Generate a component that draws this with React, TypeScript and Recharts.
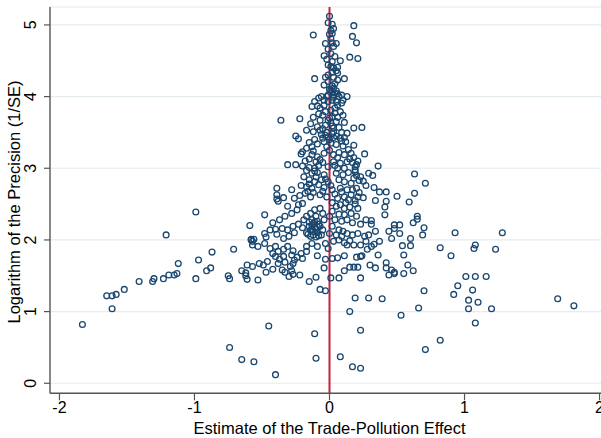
import React from 'react';
import { ScatterChart, Scatter, XAxis, YAxis, CartesianGrid, ReferenceLine } from 'recharts';

type Pt = [number, number];

const xTicks = [-2, -1, 0, 1, 2];
const yTicks = [0, 1, 2, 3, 4, 5];
const xTitle = 'Estimate of the Trade-Pollution Effect';
const yTitle = 'Logarithm of the Precision (1/SE)';

const bandBelow1: Pt[] = [
  [-1.83, 0.82], [-0.74, 0.5], [-0.65, 0.33], [-0.56, 0.3], [-0.4, 0.12], [-0.45, 0.8], [-0.11, 0.69],
  [-0.1, 0.35], [0.08, 0.37], [0.17, 0.23], [0.23, 0.21], [0.23, 0.74], [0.15, 1.0], [0.53, 0.95],
  [0.71, 0.47], [0.82, 0.6], [1.08, 0.84],
];

const band1to15: Pt[] = [
  [-1.65, 1.22], [-1.61, 1.22], [-1.58, 1.24], [-1.61, 1.04], [-1.52, 1.31], [-1.41, 1.42], [-1.31, 1.42],
  [-1.3, 1.46], [-1.23, 1.46], [-1.19, 1.51], [-1.15, 1.51], [-1.13, 1.53], [-0.99, 1.46], [-0.74, 1.46],
  [-0.75, 1.5], [-0.53, 1.44], [-0.61, 1.45], [-0.3, 1.49], [-0.15, 1.42], [-0.1, 1.48], [-0.07, 1.31],
  [-0.03, 1.29], [0.01, 1.47], [0.07, 1.47], [0.19, 1.19], [0.29, 1.19], [0.39, 1.18], [0.66, 1.05],
  [0.7, 1.29], [0.92, 1.24], [0.95, 1.36], [1.01, 1.49], [1.03, 1.16], [1.03, 1.04], [1.06, 1.3],
  [1.08, 1.49], [1.1, 1.13], [1.16, 1.49], [1.2, 1.04], [1.69, 1.18], [1.81, 1.08], [0.23, 1.47], [-0.62, 1.5],
];

const band15to2: Pt[] = [
  [-1.12, 1.67], [-0.97, 1.72], [-0.91, 1.57], [-0.88, 1.61], [-0.87, 1.83], [-0.71, 1.87], [-0.65, 1.57],
  [-0.62, 1.54], [-0.57, 1.63], [-0.61, 1.65], [-0.57, 1.93], [-0.53, 1.91], [-0.52, 1.67], [-0.49, 1.65],
  [-0.48, 1.95], [-0.47, 1.55], [-0.46, 1.7], [-0.44, 1.88], [-0.42, 1.81], [-0.42, 1.59], [-0.4, 1.91],
  [-0.4, 1.77], [-0.38, 1.84], [-0.38, 1.67], [-0.37, 1.73], [-0.35, 1.58], [-0.34, 1.87], [-0.34, 1.77],
  [-0.33, 1.69], [-0.33, 1.55], [-0.31, 1.91], [-0.29, 1.63], [-0.28, 1.79], [-0.28, 1.57], [-0.27, 1.85],
  [-0.27, 1.67], [-0.27, 1.52], [-0.26, 1.72], [-0.24, 1.76], [-0.22, 1.51], [-0.21, 1.81], [-0.2, 1.74],
  [-0.17, 1.84], [-0.17, 1.91], [-0.13, 1.95], [-0.09, 1.91], [-0.09, 1.78], [-0.03, 1.73], [-0.04, 1.61],
  [-0.03, 1.95], [-0.01, 1.88], [0.02, 1.74], [0.06, 1.75], [0.11, 1.78], [0.11, 1.57], [0.13, 1.93],
  [0.15, 1.62], [0.18, 1.62], [0.21, 1.62], [0.18, 1.93], [0.2, 1.76], [0.23, 1.77], [0.24, 1.78],
  [0.03, 1.98], [0.07, 2.0], [0.11, 1.96], [0.15, 1.99], [0.23, 1.93], [0.27, 1.98], [0.28, 1.87],
  [0.3, 1.65], [0.31, 1.91], [0.33, 1.94], [0.34, 1.61], [0.36, 1.79], [0.37, 1.98], [0.42, 1.68],
  [0.42, 1.61], [0.44, 1.51], [0.46, 1.58], [0.48, 1.53], [0.48, 1.55], [0.54, 1.92], [0.55, 1.79],
  [0.55, 1.53], [0.58, 1.65], [0.6, 1.92], [0.62, 1.57], [0.82, 1.89], [0.9, 1.78], [1.07, 1.88],
  [1.08, 1.93], [1.23, 1.87],
];

const band2to25: Pt[] = [
  [-1.21, 2.07], [-0.99, 2.39], [-0.59, 2.2], [-0.58, 2.0], [-0.57, 1.98], [-0.58, 2.01], [-0.56, 2.01],
  [-0.48, 2.35], [-0.48, 2.09], [-0.47, 2.04], [-0.44, 2.14], [-0.42, 2.24], [-0.4, 2.15], [-0.39, 2.08],
  [-0.37, 2.28], [-0.35, 2.16], [-0.34, 2.02], [-0.33, 2.33], [-0.31, 2.14], [-0.31, 2.47], [-0.3, 2.05],
  [-0.28, 2.37], [-0.27, 2.19], [-0.26, 2.1], [-0.24, 2.42], [-0.23, 2.49], [-0.23, 2.22], [-0.2, 2.17],
  [-0.19, 2.28], [-0.17, 2.33], [-0.17, 2.1], [-0.15, 2.19], [-0.14, 2.37], [-0.14, 2.13], [-0.14, 2.05],
  [-0.13, 2.28], [-0.12, 2.23], [-0.12, 2.07], [-0.11, 2.42], [-0.11, 2.17], [-0.1, 2.04], [-0.1, 2.33],
  [-0.09, 2.26], [-0.09, 2.1], [-0.07, 2.44], [-0.07, 2.19], [-0.06, 2.07], [-0.05, 2.37], [-0.05, 2.14],
  [-0.04, 2.28], [-0.13, 2.2], [-0.11, 2.25], [-0.1, 2.15], [-0.08, 2.22], [-0.13, 2.15], [-0.12, 2.12],
  [-0.09, 2.18], [-0.08, 2.06], [-0.15, 2.25], [-0.16, 2.08],
  [0.0, 2.33], [0.0, 2.09], [0.02, 2.52], [0.02, 2.4], [0.02, 2.19], [0.04, 2.28], [0.05, 2.47],
  [0.05, 2.07], [0.07, 2.14], [0.07, 2.36], [0.08, 2.49], [0.09, 2.26], [0.09, 2.05], [0.1, 2.12],
  [0.11, 2.44], [0.11, 2.35], [0.13, 2.28], [0.13, 2.09], [0.15, 2.46], [0.16, 2.37], [0.17, 2.24],
  [0.17, 2.07], [0.19, 2.5], [0.2, 2.33], [0.21, 2.44], [0.21, 2.09], [0.23, 2.22], [0.26, 2.05],
  [0.27, 2.28], [0.29, 2.07], [0.31, 2.22], [0.31, 2.27], [0.34, 2.12], [0.41, 2.46], [0.41, 2.35],
  [0.44, 2.12], [0.46, 2.02], [0.48, 2.16], [0.48, 2.21], [0.52, 2.21], [0.52, 2.09], [0.6, 2.02],
  [0.62, 2.24], [0.65, 2.29], [0.65, 2.33], [0.69, 2.07], [0.7, 2.17], [0.93, 2.1], [1.28, 2.1],
];

const band25to3: Pt[] = [
  [-0.39, 2.72], [-0.39, 2.63], [-0.39, 2.57], [-0.38, 2.54], [-0.34, 2.59], [-0.28, 2.7], [-0.26, 2.58],
  [-0.21, 2.76], [-0.2, 2.51], [-0.19, 2.88], [-0.18, 2.65], [-0.17, 2.97], [-0.17, 2.74], [-0.15, 2.84],
  [-0.14, 2.6], [-0.13, 2.93], [-0.13, 2.72], [-0.11, 2.81], [-0.09, 2.94], [-0.07, 2.63], [-0.06, 2.84],
  [-0.04, 2.91], [-0.04, 2.73], [-0.02, 2.6], [-0.01, 2.81],
  [0.02, 2.7], [0.05, 2.93], [0.06, 2.58], [0.07, 2.84], [0.08, 2.72], [0.1, 2.91], [0.11, 2.81],
  [0.11, 2.6], [0.13, 2.7], [0.14, 2.94], [0.16, 2.79], [0.16, 2.63], [0.19, 2.95], [0.2, 2.72],
  [0.21, 2.6], [0.23, 2.88], [0.25, 2.82], [0.25, 2.59], [0.29, 2.93], [0.32, 2.9], [0.33, 2.73],
  [0.34, 2.55], [0.37, 2.67], [0.42, 2.67], [0.42, 2.54], [0.5, 2.61], [0.59, 2.53], [0.63, 2.65],
  [0.63, 2.92], [0.71, 2.79],
  [-0.1, 2.88], [-0.12, 2.66], [-0.08, 2.77], [-0.05, 2.68], [-0.15, 2.78], [-0.03, 2.85], [0.04, 2.64],
  [0.09, 2.67], [0.18, 2.86], [0.22, 2.66], [0.14, 2.56], [-0.22, 2.62], [0.27, 2.76],
  [0.19, 2.98], [0.2, 2.9], [0.22, 2.83], [0.17, 2.7], [-0.16, 2.68], [-0.11, 2.96], [0.01, 2.76],
  [0.12, 2.52], [0.19, 2.55],
];

const band3to35: Pt[] = [
  [-0.31, 3.05], [-0.25, 3.05], [-0.25, 3.45], [-0.23, 3.41], [-0.2, 3.03], [-0.2, 3.23], [-0.21, 3.2],
  [-0.17, 3.28], [-0.15, 3.01], [-0.15, 3.13], [-0.15, 3.36], [-0.13, 3.19], [-0.13, 3.3], [-0.11, 3.0],
  [-0.11, 3.4], [-0.1, 3.09], [-0.09, 3.16], [-0.09, 3.34], [-0.06, 3.47], [-0.05, 3.08], [-0.04, 3.21],
  [-0.04, 3.37], [-0.01, 3.02], [-0.01, 3.44], [0.01, 3.35], [0.03, 3.09], [0.03, 3.19], [0.03, 3.43],
  [0.05, 3.33], [0.07, 3.22], [0.08, 3.07], [0.08, 3.42], [0.1, 3.31], [0.11, 3.0], [0.11, 3.19],
  [0.11, 3.43], [0.13, 3.09], [0.16, 3.21], [0.17, 3.08], [0.18, 3.32], [0.19, 3.02], [0.26, 3.2],
  [0.36, 3.03], [-0.07, 3.12], [0.0, 3.25], [0.06, 3.15], [-0.02, 3.3], [0.14, 3.26], [0.09, 3.38],
  [-0.12, 3.24], [0.04, 3.04],
  [-0.03, 3.46], [0.0, 3.4], [0.02, 3.48], [-0.05, 3.42], [0.05, 3.45], [0.12, 3.37], [0.15, 3.13],
  [0.2, 3.05], [0.21, 3.1], [0.18, 3.15], [-0.18, 3.1], [-0.08, 3.04], [0.06, 3.0],
];

const band35to4: Pt[] = [
  [-0.36, 3.67], [-0.22, 3.69], [-0.17, 3.53], [-0.14, 3.62], [-0.13, 3.86], [-0.12, 3.51], [-0.12, 3.71],
  [-0.11, 3.93], [-0.09, 3.58], [-0.09, 3.87], [-0.08, 3.98], [-0.07, 3.84], [-0.07, 3.67], [-0.07, 3.53],
  [-0.06, 4.0], [-0.05, 3.74], [-0.04, 3.95], [-0.03, 3.79], [-0.03, 3.6], [-0.02, 4.0], [-0.02, 3.5],
  [-0.01, 3.67], [-0.01, 3.93], [0.01, 3.81], [0.02, 3.95], [0.02, 3.72], [0.02, 3.59], [0.03, 3.51],
  [0.03, 3.99], [0.04, 3.84], [0.05, 3.65], [0.05, 3.93], [0.06, 3.71], [0.07, 3.57], [0.07, 4.0],
  [0.08, 3.79], [0.09, 3.5], [0.09, 3.91], [0.1, 3.95], [0.1, 3.74], [0.11, 3.64], [0.13, 3.49],
  [0.13, 4.0], [0.18, 3.56], [0.24, 3.57], [0.0, 3.7], [-0.05, 3.55], [0.04, 3.77], [0.06, 3.88],
  [-0.08, 3.76], [0.01, 3.63], [0.03, 3.56], [-0.04, 3.88],
];

const band4to45: Pt[] = [
  [-0.11, 4.25], [0.11, 4.25], [0.01, 4.42], [0.03, 4.4], [0.06, 4.41], [0.05, 4.36], [0.02, 4.34],
  [0.06, 4.33], [-0.01, 4.3], [-0.03, 4.27], [0.03, 4.27], [0.06, 4.23], [-0.01, 4.21], [-0.04, 4.16],
  [0.02, 4.15], [0.03, 4.12], [0.01, 4.09], [0.05, 4.08], [0.02, 4.06], [0.06, 4.04], [-0.01, 4.02],
  [0.09, 4.02], [0.04, 4.05], [0.03, 4.02], [0.0, 4.1], [0.04, 4.18],
];

const bandAbove45: Pt[] = [
  [0.0, 5.12], [-0.01, 5.03], [0.02, 5.01], [0.03, 4.95], [0.01, 4.92], [0.02, 4.88], [0.0, 4.87],
  [0.01, 4.81], [0.02, 4.75], [-0.03, 4.74], [0.03, 4.7], [0.05, 4.74], [-0.01, 4.66], [0.01, 4.6],
  [-0.04, 4.57], [-0.02, 4.52], [0.04, 4.56], [0.02, 4.49], [-0.01, 4.44], [-0.12, 4.86], [0.18, 4.99],
  [0.17, 4.84], [0.2, 4.75], [0.15, 4.55], [0.21, 4.53], [0.08, 4.5],
];

const allBands: Pt[][] = [
  bandBelow1, band1to15, band15to2, band2to25, band25to3, band3to35, band35to4, band4to45, bandAbove45,
];

const data = allBands.flat().map(([x, y]) => ({ x, y }));

const NAVY = '#1a476f';
const FONT = 'Liberation Sans, Arial, sans-serif';

const Ring = (props: any) => {
  const { cx, cy } = props;
  if (cx == null || cy == null) return null;
  return <circle cx={cx} cy={cy} r={2.9} fill="none" stroke={NAVY} strokeWidth={1.3} />;
};

const YTick = (props: any) => {
  const { x, y, payload } = props;
  const bx = x - 6;
  return (
    <text
      x={bx}
      y={y}
      transform={`rotate(-90, ${bx}, ${y})`}
      textAnchor="middle"
      fontSize={16}
      fontFamily={FONT}
      fill="#000"
    >
      {payload.value}
    </text>
  );
};

const XTick = (props: any) => {
  const { x, y, payload } = props;
  return (
    <text x={x} y={y + 11} textAnchor="middle" fontSize={16} fontFamily={FONT} fill="#000">
      {payload.value}
    </text>
  );
};

const XTitle = (props: any) => {
  const vb = props.viewBox || {};
  const cx = (vb.x ?? 50) + (vb.width ?? 559) / 2;
  return (
    <text x={cx} y={434} textAnchor="middle" fontSize={16.5} fontFamily={FONT} fill="#000">
      {xTitle}
    </text>
  );
};

const YTitle = () => (
  <text
    x={20}
    y={202}
    transform="rotate(-90, 20, 202)"
    textAnchor="middle"
    fontSize={16.5}
    fontFamily={FONT}
    fill="#000"
  >
    {yTitle}
  </text>
);

export default function App() {
  return (
    <div
      style={{
        position: 'absolute',
        left: 0,
        top: 0,
        width: 601,
        height: 438,
        overflow: 'hidden',
        background: '#fff',
      }}
    >
      <ScatterChart
        width={620}
        height={438}
        margin={{ top: 7, right: 11, bottom: 14.7, left: 0 }}
      >
        <CartesianGrid vertical={false} stroke="#e4ecef" strokeWidth={1.2} />
        <XAxis
          type="number"
          dataKey="x"
          domain={[-2.07, 2.07]}
          ticks={xTicks}
          allowDataOverflow
          height={30}
          tickSize={7}
          tickLine={{ stroke: '#555', strokeWidth: 1.2 }}
          axisLine={{ stroke: '#555', strokeWidth: 1.4 }}
          tick={<XTick />}
          label={<XTitle />}
        />
        <YAxis
          type="number"
          dataKey="y"
          domain={[-0.14, 5.25]}
          ticks={yTicks}
          allowDataOverflow
          width={50}
          tickSize={6}
          tickLine={{ stroke: '#555', strokeWidth: 1.2 }}
          axisLine={{ stroke: '#555', strokeWidth: 1.4 }}
          tick={<YTick />}
          label={<YTitle />}
        />
        <Scatter data={data} shape={<Ring />} isAnimationActive={false} />
        <ReferenceLine x={0} stroke="#c8203f" strokeWidth={2} />
      </ScatterChart>
    </div>
  );
}
